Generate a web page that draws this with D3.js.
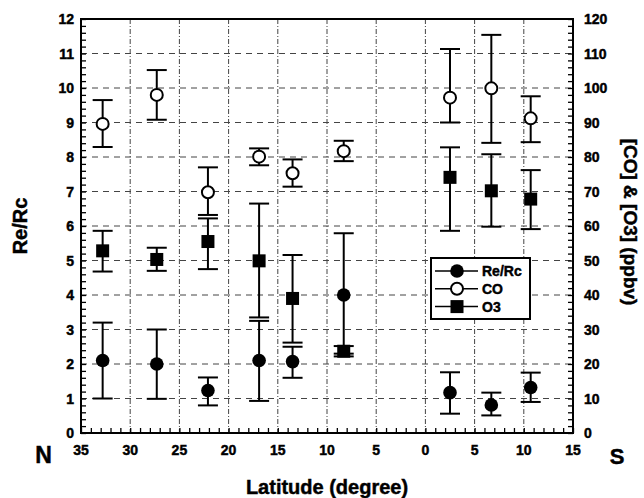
<!DOCTYPE html>
<html>
<head>
<meta charset="utf-8">
<script src="https://cdn.jsdelivr.net/npm/d3@7/dist/d3.min.js"></script>
<style>
  html, body { margin: 0; padding: 0; background: #fff; }
  svg { display: block; font-family: "Liberation Sans", Arial, sans-serif; font-weight: bold; }
  text { stroke: #000; stroke-width: 0.45px; }
</style>
</head>
<body>
<svg id="chart" width="644" height="498"></svg>
<script>
// Sampling latitudes (north positive, south negative)
const latitude = [32.8, 27.3, 22.1, 16.9, 13.5, 8.3, -2.5, -6.7, -10.7];

// Re/Rc ratio with error range
const reRc     = [2.10, 2.00, 1.23, 2.10, 2.07, 4.00, 1.17, 0.81, 1.32];
const reRcLow  = [1.00, 0.99, 0.80, 0.93, 1.60, 2.30, 0.56, 0.51, 0.90];
const reRcHigh = [3.20, 3.00, 1.61, 3.25, 2.50, 5.79, 1.76, 1.17, 1.75];

// CO mixing ratio (ppbv) with error range
const co     = [89.6, 98.0, 69.8, 80.1, 75.3, 81.7, 97.2, 99.9, 91.2];
const coLow  = [82.9, 90.8, 63.2, 77.6, 71.4, 78.8, 90.0, 84.1, 84.3];
const coHigh = [96.5, 105.2, 77.0, 82.5, 79.3, 84.7, 111.3, 115.4, 97.6];

// O3 mixing ratio (ppbv) with error range
const o3     = [52.8, 50.3, 55.5, 49.9, 39.0, 23.7, 74.1, 70.2, 67.8];
const o3Low  = [46.8, 47.0, 47.5, 33.5, 26.2, 22.2, 58.6, 59.8, 59.1];
const o3High = [58.6, 53.7, 62.2, 66.5, 51.6, 25.2, 82.8, 80.8, 76.2];

// Axis ticks
const latTicks = [35, 30, 25, 20, 15, 10, 5, 0, -5, -10, -15];
const ratioTicks = [0, 1, 2, 3, 4, 5, 6, 7, 8, 9, 10, 11, 12];
const ppbvTicks = [0, 10, 20, 30, 40, 50, 60, 70, 80, 90, 100, 110, 120];

const legendLabels = ["Re/Rc", "CO", "O3"];

const svg = d3.select("#chart");
const L = 81, R = 573, T = 19, B = 433;

const x = d3.scaleLinear().domain([35, -15]).range([L, R]);
const yL = d3.scaleLinear().domain([0, 12]).range([B, T]);
const yR = d3.scaleLinear().domain([0, 120]).range([B, T]);

// Grid
const grid = svg.append("g");
grid.selectAll("line.h").data(ratioTicks.filter(d => d > 0 && d < 12)).join("line")
  .attr("x1", L).attr("x2", R)
  .attr("y1", d => yL(d)).attr("y2", d => yL(d))
  .attr("stroke", "#444").attr("stroke-width", 1)
  .attr("stroke-dasharray", "6,5");
grid.selectAll("line.v").data(latTicks.filter(d => d < 35 && d > -15)).join("line")
  .attr("y1", T).attr("y2", B)
  .attr("x1", d => x(d)).attr("x2", d => x(d))
  .attr("stroke", "#444").attr("stroke-width", 1)
  .attr("stroke-dasharray", "5,2,1,2");

// Axes with inward ticks
const minorLat = d3.range(-15, 36, 1);
const bottomAxis = d3.axisBottom(x).tickValues(minorLat).tickSize(-5).tickFormat("");
svg.append("g").attr("transform", `translate(0,${B})`).call(bottomAxis)
  .call(g => g.select(".domain").remove())
  .call(g => g.selectAll("line").attr("stroke", "#000").attr("stroke-width", 1.3));

const minorRatio = d3.range(0, 60.5, 1).map(d => d / 5);
const leftAxis = d3.axisLeft(yL).tickValues(minorRatio).tickSize(-5).tickFormat("");
svg.append("g").attr("transform", `translate(${L},0)`).call(leftAxis)
  .call(g => g.select(".domain").remove())
  .call(g => g.selectAll("line").attr("stroke", "#000").attr("stroke-width", 1.3));

const minorPpbv = d3.range(0, 121, 2);
const rightAxis = d3.axisRight(yR).tickValues(minorPpbv).tickSize(-5).tickFormat("");
svg.append("g").attr("transform", `translate(${R},0)`).call(rightAxis)
  .call(g => g.select(".domain").remove())
  .call(g => g.selectAll("line").attr("stroke", "#000").attr("stroke-width", 1.3));

// Tick labels
svg.append("g").selectAll("text").data(latTicks).join("text")
  .attr("x", d => x(d)).attr("y", 455)
  .attr("text-anchor", "middle").attr("font-size", 14)
  .text(d => Math.abs(d));
svg.append("g").selectAll("text").data(ratioTicks).join("text")
  .attr("x", 74).attr("y", d => yL(d)).attr("dy", "0.36em")
  .attr("text-anchor", "end").attr("font-size", 14)
  .text(d => d);
svg.append("g").selectAll("text").data(ppbvTicks).join("text")
  .attr("x", 584).attr("y", d => yR(d)).attr("dy", "0.36em")
  .attr("text-anchor", "start").attr("font-size", 14)
  .text(d => d);

// Error bars
function errorBars(vals, lo, hi, scale) {
  const g = svg.append("g").attr("stroke", "#000").attr("stroke-width", 2);
  latitude.forEach((lat, i) => {
    const cx = x(lat);
    g.append("line").attr("x1", cx).attr("x2", cx).attr("y1", scale(lo[i])).attr("y2", scale(hi[i]));
    g.append("line").attr("x1", cx - 10).attr("x2", cx + 10).attr("y1", scale(lo[i])).attr("y2", scale(lo[i]));
    g.append("line").attr("x1", cx - 10).attr("x2", cx + 10).attr("y1", scale(hi[i])).attr("y2", scale(hi[i]));
  });
}
errorBars(reRc, reRcLow, reRcHigh, yL);
errorBars(co, coLow, coHigh, yR);
errorBars(o3, o3Low, o3High, yR);

// Markers
svg.append("g").selectAll("rect").data(latitude).join("rect")
  .attr("x", (d) => x(d) - 6.5).attr("y", (d, i) => yR(o3[i]) - 6.5)
  .attr("width", 13).attr("height", 13).attr("fill", "#000");
svg.append("g").selectAll("circle").data(latitude).join("circle")
  .attr("cx", d => x(d)).attr("cy", (d, i) => yR(co[i])).attr("r", 6)
  .attr("fill", "#fff").attr("stroke", "#000").attr("stroke-width", 2);
svg.append("g").selectAll("circle").data(latitude).join("circle")
  .attr("cx", d => x(d)).attr("cy", (d, i) => yL(reRc[i])).attr("r", 6.8)
  .attr("fill", "#000");

// Frame
svg.append("rect").attr("x", L).attr("y", T).attr("width", R - L).attr("height", B - T)
  .attr("fill", "none").attr("stroke", "#000").attr("stroke-width", 2);

// Legend
const lg = svg.append("g");
lg.append("rect").attr("x", 431).attr("y", 258).attr("width", 99).attr("height", 61)
  .attr("fill", "#fff").attr("stroke", "#000").attr("stroke-width", 2);
legendLabels.forEach((lab, i) => {
  const ly = 271 + i * 17.8;
  lg.append("line").attr("x1", 435).attr("x2", 478).attr("y1", ly).attr("y2", ly)
    .attr("stroke", "#000").attr("stroke-width", 1.5);
  if (i === 0) lg.append("circle").attr("cx", 457).attr("cy", ly).attr("r", 6.8).attr("fill", "#000");
  if (i === 1) lg.append("circle").attr("cx", 457).attr("cy", ly).attr("r", 6).attr("fill", "#fff")
    .attr("stroke", "#000").attr("stroke-width", 2);
  if (i === 2) lg.append("rect").attr("x", 450.5).attr("y", ly - 6.5).attr("width", 13).attr("height", 13).attr("fill", "#000");
  lg.append("text").attr("x", 482).attr("y", ly).attr("dy", "0.36em").attr("font-size", 14).text(lab);
});

// Axis titles
svg.append("text").attr("transform", "translate(27,226) rotate(-90)")
  .attr("text-anchor", "middle").attr("font-size", 20).text("Re/Rc");
svg.append("text").attr("transform", "translate(624,222) rotate(90)")
  .attr("text-anchor", "middle").attr("font-size", 19).text("[CO] & [O3]  (ppbv)");
svg.append("text").attr("x", 327).attr("y", 494)
  .attr("text-anchor", "middle").attr("font-size", 20).text("Latitude (degree)");
svg.append("text").attr("x", 43.5).attr("y", 463)
  .attr("text-anchor", "middle").attr("font-size", 23).text("N");
svg.append("text").attr("x", 617).attr("y", 464)
  .attr("text-anchor", "middle").attr("font-size", 22).text("S");
</script>
</body>
</html>
